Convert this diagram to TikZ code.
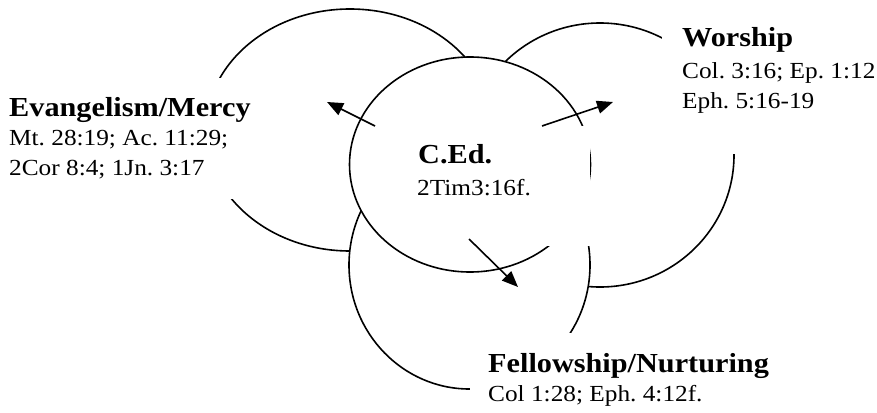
\documentclass[tikz,border=0pt]{standalone}
\usepackage{fontspec}
\setmainfont{Liberation Serif}[FakeStretch=1.1]
\frenchspacing
\usetikzlibrary{shapes.geometric,arrows.meta}
\begin{document}
\begin{tikzpicture}[x=1pt,y=-1pt,
  ring/.style={ellipse, draw=black, line width=1.6pt, fill=white, inner sep=0pt},
  cover/.style={fill=white, draw=none, inner sep=0pt, anchor=north west},
  arr/.style={line width=1.6pt, -{Triangle[length=16pt,width=13pt]}},
  ttl/.style={anchor=base west, inner sep=0pt, font=\fontsize{27.5pt}{30pt}\selectfont\bfseries\frenchspacing},
  refs/.style={anchor=base west, inner sep=0pt, font=\fontsize{23pt}{26pt}\selectfont\frenchspacing}]
\useasboundingbox[fill=white] (0,0) rectangle (877,412);
% circles, bottom to top
\node[ring, minimum width=288pt, minimum height=242pt] (L) at (350,130) {};
\node[ring, minimum width=268pt, minimum height=264pt] (R) at (600,155) {};
\node[ring, minimum width=241pt, minimum height=248pt] (F) at (469.5,265) {};
\node[ring, minimum width=241pt, minimum height=215pt] (C) at (470,164.5) {};
% white text boxes
\node[cover, minimum width=255pt, minimum height=121pt] (boxE) at (0,78) {};
\node[cover, minimum width=215pt, minimum height=154pt] (boxW) at (662,0) {};
\node[cover, minimum width=407pt, minimum height=79pt] (boxF) at (470,333) {};
\node[cover, minimum width=189.5pt, minimum height=120pt] (boxC) at (400,126) {};
% arrows
\coordinate (a1s) at (375,126); \coordinate (a1e) at (327,102);
\coordinate (a2s) at (542,126); \coordinate (a2e) at (613,102);
\coordinate (a3s) at (469,239); \coordinate (a3e) at (518,287);
\draw[arr] (a1s) -- (a1e);
\draw[arr] (a2s) -- (a2e);
\draw[arr] (a3s) -- (a3e);
% texts
\node[ttl] (tE) at (9,116.7) {Evangelism/Mercy};
\node[refs] (rE1) at (9,145) {Mt. 28:19; Ac. 11:29;};
\node[refs] (rE2) at (9,175) {2Cor 8:4; 1Jn. 3:17};
\node[ttl] (tC) at (418,163) {C.Ed.};
\node[refs] (rC) at (417,195) {2Tim3:16f.};
\node[ttl] (tW) at (682,47) {Worship};
\node[refs] (rW1) at (682,78) {Col. 3:16; Ep. 1:12};
\node[refs] (rW2) at (682,108) {Eph. 5:16-19};
\node[ttl] (tF) at (488,372) {Fellowship/Nurturing};
\node[refs] (rF) at (488,401) {Col 1:28; Eph. 4:12f.};
\end{tikzpicture}
\end{document}
